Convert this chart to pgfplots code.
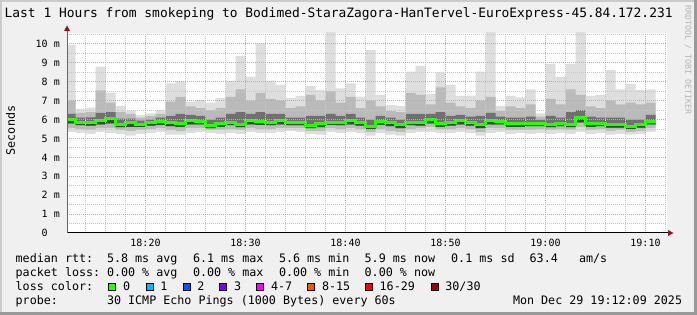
\documentclass[border=0pt]{standalone}
\usepackage{fontspec}
\newfontfamily\dvm{DejaVu Sans Mono}
\usepackage{xcolor}
\usepackage{pgfplots}
\pgfplotsset{compat=1.18}
\usepackage{pgfplotstable}
\usepgfplotslibrary{fillbetween}
\definecolor{bgcol}{HTML}{F0F0F0}
\definecolor{shadeA}{HTML}{CBCBCB}
\definecolor{shadeB}{HTML}{999999}
\definecolor{majgrid}{HTML}{E89A9A}
\definecolor{mingrid}{HTML}{C8C8C8}
\definecolor{arrowred}{HTML}{9A1414}
\definecolor{smokeA}{HTML}{DEDEDE}
\definecolor{smokeB}{HTML}{BABABA}
\definecolor{smokeC}{HTML}{707070}
\definecolor{smokeD}{HTML}{424242}
\definecolor{lg0}{HTML}{26FF00}
\definecolor{lg1}{HTML}{00B8FF}
\definecolor{lg2}{HTML}{0059FF}
\definecolor{lg3}{HTML}{7E00FF}
\definecolor{lg4}{HTML}{FF00FF}
\definecolor{lg8}{HTML}{FF5500}
\definecolor{lg16}{HTML}{FF0000}
\definecolor{lg30}{HTML}{A10000}
\definecolor{wmark}{HTML}{B4B4B4}

\pgfplotstableread{
t  lo   a    b    med  c    d    hi
12 5.35 5.55 5.80 5.98 6.30 7.00 9.95
13 5.30 5.50 5.70 5.87 6.10 6.35 6.56
14 5.25 5.45 5.68 5.84 6.12 6.40 6.63
15 5.35 5.55 5.75 5.94 6.35 7.55 8.80
16 5.30 5.55 5.80 6.05 6.40 6.90 7.42
17 5.25 5.45 5.60 5.75 6.05 6.40 6.72
18 5.15 5.40 5.62 5.82 6.05 6.30 6.47
19 5.25 5.45 5.62 5.75 5.95 6.10 6.24
20 5.30 5.50 5.68 5.84 6.00 6.18 6.33
21 5.35 5.55 5.72 5.89 6.10 6.30 6.51
22 5.20 5.45 5.65 5.82 6.20 6.95 7.92
23 5.20 5.40 5.62 5.78 6.30 7.20 8.04
24 5.30 5.55 5.75 5.94 6.25 6.70 6.95
25 5.35 5.55 5.75 5.92 6.20 6.60 7.04
26 5.30 5.45 5.55 5.66 6.00 6.50 6.89
27 5.25 5.45 5.62 5.77 6.10 6.60 7.13
28 5.30 5.50 5.70 5.87 6.30 7.20 8.06
29 5.25 5.45 5.60 5.75 6.40 7.60 9.37
30 5.35 5.55 5.75 5.94 6.30 7.00 8.27
31 5.30 5.50 5.72 5.92 6.40 7.40 10.03
32 5.30 5.50 5.70 5.87 6.30 7.10 8.06
33 5.35 5.55 5.75 5.94 6.30 7.00 7.83
34 5.40 5.55 5.70 5.84 6.10 6.60 7.13
35 5.35 5.55 5.70 5.84 6.10 6.70 7.25
36 5.25 5.40 5.55 5.70 6.20 7.30 7.78
37 5.20 5.40 5.60 5.78 6.20 7.00 7.57
38 5.35 5.55 5.72 5.86 6.30 7.50 11.00
39 5.30 5.50 5.70 5.86 6.20 6.90 7.65
40 5.35 5.55 5.75 5.94 6.30 7.20 7.92
41 5.30 5.50 5.68 5.84 6.10 6.60 7.21
42 5.15 5.35 5.50 5.63 6.00 7.00 9.68
43 5.30 5.50 5.72 5.89 6.20 6.70 7.30
44 5.20 5.40 5.65 5.86 6.10 6.45 6.77
45 5.15 5.35 5.55 5.73 6.00 6.40 6.72
46 5.30 5.50 5.70 5.86 6.30 7.40 8.54
47 5.35 5.55 5.68 5.82 6.30 7.30 8.84
48 5.35 5.60 5.80 5.98 6.30 6.80 7.35
49 5.30 5.50 5.62 5.78 6.40 7.70 8.50
50 5.30 5.50 5.68 5.84 6.20 6.90 7.83
51 5.35 5.55 5.75 5.94 6.25 6.70 7.25
52 5.30 5.50 5.68 5.84 6.15 6.60 7.27
53 5.15 5.35 5.55 5.73 6.20 7.00 8.54
54 5.30 5.55 5.75 5.94 6.35 7.20 11.00
55 5.35 5.55 5.75 5.92 6.15 6.45 6.72
56 5.25 5.45 5.62 5.78 6.10 6.70 7.25
57 5.30 5.45 5.62 5.77 6.10 6.60 7.18
58 5.25 5.45 5.65 5.80 6.15 6.80 7.60
59 5.30 5.50 5.65 5.78 5.98 6.15 6.33
60 5.25 5.45 5.60 5.73 6.20 7.10 8.94
61 5.30 5.50 5.65 5.80 6.10 6.80 8.24
62 5.25 5.45 5.60 5.75 6.40 7.60 8.94
63 5.35 5.60 5.85 6.10 6.50 7.30 11.00
64 5.25 5.45 5.62 5.77 6.15 6.70 7.25
65 5.30 5.50 5.65 5.80 6.10 6.60 7.30
66 5.20 5.40 5.58 5.73 6.10 7.00 8.62
67 5.25 5.45 5.58 5.73 6.10 6.80 7.60
68 5.20 5.35 5.50 5.64 6.00 6.90 7.88
69 5.25 5.40 5.57 5.72 6.00 6.80 7.57
70 5.35 5.55 5.75 5.92 6.25 6.90 7.60
71 5.35 5.55 5.75 5.92 6.25 6.90 7.60
}\smoke

\begin{document}
\pagecolor{bgcol}%
\begin{tikzpicture}[
  lg/.style={anchor=base west, inner sep=0pt, font=\dvm\fontsize{11.7}{14}\selectfont},
  box/.style={draw=black, line width=1pt}]
% shading of the frame (outside the plot area)
\fill[shadeA] (0,313pt) rectangle (697pt,315pt);
\fill[shadeA] (0,0) rectangle (1.5pt,315pt);
\fill[shadeB] (0,0) rectangle (697pt,2.5pt);
\fill[shadeB] (694pt,0) rectangle (697pt,315pt);

\begin{axis}[
  at={(67pt,82pt)}, anchor=south west,
  scale only axis, width=600pt, height=200pt,
  xmin=12.15, xmax=72.15, ymin=0, ymax=10.58,
  axis background/.style={fill=white},
  axis x line=bottom, axis y line=left,
  x axis line style={draw=black, line width=1pt, -},
  y axis line style={draw=black!60, line width=1pt, -},
  xtick={20,30,40,50,60,70},
  xticklabels={18:20,18:30,18:40,18:50,19:00,19:10},
  minor xtick={14,16,...,72},
  ytick={0,1,...,10},
  yticklabels={0\hphantom{\ m},1 m,2 m,3 m,4 m,5 m,6 m,7 m,8 m,9 m,10 m},
  minor ytick={0.5,1.5,...,10.5},
  major tick length=0pt, minor tick length=0pt,
  tick label style={font=\dvm\fontsize{10}{12}\selectfont, inner sep=0pt},
  yticklabel style={anchor=east, xshift=-7pt},
  xticklabel style={anchor=north, yshift=-6pt},
  grid=both,
  major grid style={draw=majgrid, line width=1pt, dash pattern=on 1pt off 1pt},
  minor grid style={draw=mingrid, line width=1pt, dash pattern=on 1pt off 1pt},
  axis on top,
]
\addplot[const plot, draw=none, name path=lo, forget plot] table[x=t,y=lo]{\smoke};
\addplot[const plot, draw=none, name path=hi, forget plot] table[x=t,y=hi]{\smoke};
\addplot[const plot, draw=none, name path=a, forget plot] table[x=t,y=a]{\smoke};
\addplot[const plot, draw=none, name path=d, forget plot] table[x=t,y=d]{\smoke};
\addplot[const plot, draw=none, name path=b, forget plot] table[x=t,y=b]{\smoke};
\addplot[const plot, draw=none, name path=c, forget plot] table[x=t,y=c]{\smoke};
\addplot[const plot, draw=none, name path=m, forget plot] table[x=t,y=med]{\smoke};
\addplot[fill=smokeA, draw=none] fill between[of=hi and lo];
\addplot[fill=smokeB, draw=none] fill between[of=d and a];
\addplot[fill=smokeC, draw=none] fill between[of=c and b];
\addplot[fill=smokeD, draw=none] fill between[of=m and b];
\addplot[const plot, draw=lg0, line width=3pt] table[x=t,y=med]{\smoke};
\end{axis}

% axis arrow heads
\draw[black!60, line width=1pt] (67pt,282pt) -- (67pt,285pt);
\fill[arrowred] (67pt,289.5pt) -- (64pt,284pt) -- (70pt,284pt) -- cycle;
\draw[black, line width=1pt] (667pt,82pt) -- (669pt,82pt);
\fill[arrowred] (673.5pt,82pt) -- (668pt,85pt) -- (668pt,79pt) -- cycle;

% title
\node[anchor=base west, inner sep=0pt, font=\dvm\fontsize{12.9}{15}\selectfont] at (4.5pt,297.7pt)
  {Last 1 Hours from smokeping to Bodimed-StaraZagora-HanTervel-EuroExpress-45.84.172.231};
% y label
\node[rotate=90, inner sep=0pt, font=\dvm\fontsize{11.7}{14}\selectfont] at (10.5pt,184.5pt) {Seconds};
% watermark
\node[rotate=-90, inner sep=0pt, text=wmark, font=\dvm\fontsize{8.3}{10}\selectfont] at (688pt,255pt) {RRDTOOL / TOBI OETIKER};

% legend line 1
\node[lg] at (15.5pt,52.3pt) {median rtt:};
\node[lg] at (106.8pt,52.3pt) {5.8 ms avg};
\node[lg] at (192.8pt,52.3pt) {6.1 ms max};
\node[lg] at (278.8pt,52.3pt) {5.6 ms min};
\node[lg] at (364.5pt,52.3pt) {5.9 ms now};
\node[lg] at (451pt,52.3pt) {0.1 ms sd};
\node[lg] at (529.5pt,52.3pt) {63.4};
\node[lg] at (578.8pt,52.3pt) {am/s};
% legend line 2
\node[lg] at (15.5pt,38.5pt) {packet loss:};
\node[lg] at (106.8pt,38.5pt) {0.00 \% avg};
\node[lg] at (192.8pt,38.5pt) {0.00 \% max};
\node[lg] at (278.8pt,38.5pt) {0.00 \% min};
\node[lg] at (364.5pt,38.5pt) {0.00 \% now};
% legend line 3
\node[lg] at (15.5pt,24.5pt) {loss color:};
\draw[box, fill=lg0]  (108.8pt,24.8pt) rectangle ++(7pt,7pt);
\node[lg] at (122.8pt,24.5pt) {0};
\draw[box, fill=lg1]  (146.2pt,24.8pt) rectangle ++(7pt,7pt);
\node[lg] at (160.2pt,24.5pt) {1};
\draw[box, fill=lg2]  (183.2pt,24.8pt) rectangle ++(7pt,7pt);
\node[lg] at (197.2pt,24.5pt) {2};
\draw[box, fill=lg3]  (219.8pt,24.8pt) rectangle ++(7pt,7pt);
\node[lg] at (233.8pt,24.5pt) {3};
\draw[box, fill=lg4]  (256.8pt,24.8pt) rectangle ++(7pt,7pt);
\node[lg] at (270.8pt,24.5pt) {4-7};
\draw[box, fill=lg8]  (307.8pt,24.8pt) rectangle ++(7pt,7pt);
\node[lg] at (321.8pt,24.5pt) {8-15};
\draw[box, fill=lg16] (365.5pt,24.8pt) rectangle ++(7pt,7pt);
\node[lg] at (379.5pt,24.5pt) {16-29};
\draw[box, fill=lg30] (431.2pt,24.8pt) rectangle ++(7pt,7pt);
\node[lg] at (445.2pt,24.5pt) {30/30};
% legend line 4
\node[lg] at (15.5pt,10.7pt) {probe:};
\node[lg] at (106.8pt,10.7pt) {30 ICMP Echo Pings (1000 Bytes) every 60s};
\node[lg] at (512.8pt,10.7pt) {Mon Dec 29 19:12:09 2025};

\pgfresetboundingbox
\path (0,0) rectangle (697pt,315pt);
\end{tikzpicture}
\end{document}
